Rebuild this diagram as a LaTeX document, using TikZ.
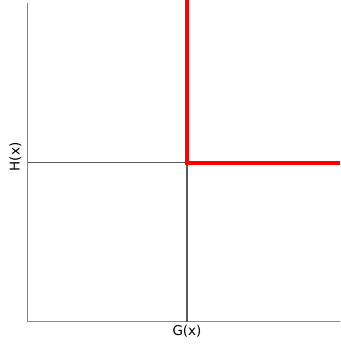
\documentclass[tikz,border=0pt]{standalone}
\usepackage{fontspec}
\setmainfont{DejaVu Sans}
\begin{document}
\begin{tikzpicture}[x=1pt, y=-1pt,
    spine/.style={draw=black!47, line width=1.3pt},
    guide/.style={draw=black!65, line width=1.3pt},
    jump/.style={draw=red, line width=4pt},
    lbl/.style={font=\fontsize{13.5}{16}\selectfont, inner sep=0pt}]
  \useasboundingbox (0,0) rectangle (340,345);

  % coordinates
  \coordinate (o) at (27.7,321.8);
  \coordinate (ytop) at (27.7,3);
  \coordinate (xend) at (340,321.8);
  \coordinate (p) at (187,162.8);
  \coordinate (hleft) at (27.7,162.8);
  \coordinate (gbot) at (187,321.8);
  \coordinate (rtop) at (187,0);
  \coordinate (rend) at (340,162.8);

  % axes
  \draw[spine] (ytop) -- (o) -- (xend);

  % guide lines
  \draw[guide] (hleft) -- (p) -- (gbot);

  % red step
  \draw[jump] (rtop) -- (p) -- (rend);

  % labels
  \node[lbl] (glabel) at (187,331.5) {G(x)};
  \node[lbl, rotate=90] (hlabel) at (15.5,157) {H(x)};
\end{tikzpicture}
\end{document}
